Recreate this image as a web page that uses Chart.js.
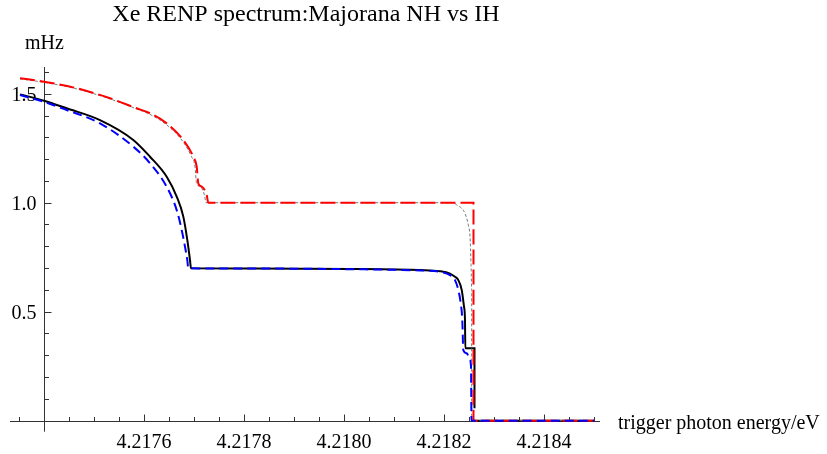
<!DOCTYPE html>
<html>
<head>
<meta charset="utf-8">
<script src="https://cdn.jsdelivr.net/npm/chart.js@4.4.1/dist/chart.umd.min.js"></script>
<style>
  html, body { margin: 0; padding: 0; background: #fff; }
  canvas { display: block; }
</style>
</head>
<body>
<canvas id="c" width="827" height="454"></canvas>
<script>
// ---------- data (trigger photon energy in eV, rate in mHz) ----------
const titleText = 'Xe RENP spectrum:Majorana NH vs IH';
const yAxisLabel = 'mHz';
const xAxisLabel = 'trigger photon energy/eV';

// black solid
const blackE = [4.217352, 4.2174, 4.2174454, 4.217512, 4.2175786, 4.217612, 4.2176454, 4.2176654, 4.2176786, 4.2176866, 4.217692, 4.217694,
                4.217812, 4.218012, 4.218152, 4.218192, 4.218212, 4.218222, 4.2182286, 4.2182354, 4.21824, 4.218242, 4.2182426,
                4.218261, 4.218261, 4.2182611, 4.2182612, 4.2185];
const blackY = [1.497, 1.468, 1.433, 1.379, 1.288, 1.211, 1.119, 1.028, 0.936, 0.829, 0.736, 0.699,
                0.698, 0.696, 0.691, 0.686, 0.675, 0.660, 0.645, 0.600, 0.523, 0.460, 0.332,
                0.332, 0.057, null, 0, 0];

// blue dashed
const blueE = [4.217352, 4.2174, 4.2174454, 4.217512, 4.2175786, 4.217612, 4.2176454, 4.2176654, 4.2176754, 4.217682, 4.2176866, 4.2176886,
               4.217812, 4.218012, 4.218152, 4.218192, 4.218212, 4.218222, 4.2182286, 4.2182334, 4.2182366, 4.2182386,
               4.2182454, 4.218252, 4.218254, 4.218255, 4.2185];
const blueY = [1.494, 1.463, 1.425, 1.364, 1.257, 1.181, 1.073, 0.966, 0.875, 0.798, 0.737, 0.699,
               0.698, 0.695, 0.689, 0.683, 0.668, 0.645, 0.600, 0.539, 0.462, 0.324,
               0.309, 0.278, 0.248, 0, 0];

// red long-dashed
const redE = [4.217352, 4.2174, 4.2174654, 4.217532, 4.2175854, 4.217612, 4.2176454, 4.2176786, 4.2176986, 4.2177054, 4.2177086, 4.2177154,
              4.2177254, 4.2177286, 4.218259, 4.218259, 4.2185];
const redY = [1.571, 1.555, 1.525, 1.479, 1.433, 1.410, 1.364, 1.287, 1.211, 1.165, 1.089, 1.074,
              1.035, 1.0, 1.0, 0, 0];

// gray thin dashed
const grayE = [4.217352, 4.2174, 4.2174654, 4.217532, 4.2175854, 4.217612, 4.2176454, 4.2176786, 4.217695, 4.217702, 4.217705, 4.217712,
               4.217721, 4.217724, 4.218218, 4.2182254, 4.2182354, 4.218242, 4.2182486, 4.218252, 4.218254, 4.2182554, 4.2182554, 4.2185];
const grayY = [1.568, 1.552, 1.522, 1.476, 1.430, 1.405, 1.357, 1.278, 1.211, 1.165, 1.089, 1.074,
               1.035, 1.0, 1.0, 0.990, 0.974, 0.951, 0.898, 0.844, 0.722, 0.6, 0, 0];

// axes ranges and ticks
const xMin = 4.217332, xMax = 4.218512;
const yMin = -0.0505, yMax = 1.6225;
const yAxisAtE = 4.2174;
const xMajorTicks = [4.2176, 4.2178, 4.2180, 4.2182, 4.2184];
const xTickLabels = ['4.2176', '4.2178', '4.2180', '4.2182', '4.2184'];
const xMinorTicks = [4.21735, 4.21745, 4.2175, 4.21755, 4.21765, 4.2177, 4.21775, 4.21785, 4.2179, 4.21795,
                     4.21805, 4.2181, 4.21815, 4.21825, 4.2183, 4.21835, 4.21845, 4.2185];
const yMajorTicks = [0.5, 1.0, 1.5];
const yTickLabels = ['0.5', '1.0', '1.5'];
const yMinorTicks = [0.1, 0.2, 0.3, 0.4, 0.6, 0.7, 0.8, 0.9, 1.1, 1.2, 1.3, 1.4, 1.6];

// ---------- build ----------
const pts = (xs, ys) => xs.map((x, i) => ({ x: x, y: ys[i] }));
const FONT = '20px "Liberation Serif", "Times New Roman", serif';
const TITLE_FONT = '24px "Liberation Serif", "Times New Roman", serif';
const AXIS_COLOR = '#333333';

const axesPlugin = {
  id: 'mmaAxes',
  beforeDatasetsDraw(chart) {
    const ctx = chart.ctx;
    const xs = chart.scales.x, ys = chart.scales.y;
    const area = chart.chartArea;
    const ax = Math.round(xs.getPixelForValue(yAxisAtE)) + 0.5;
    const ay = Math.round(ys.getPixelForValue(0)) + 0.5;
    ctx.save();
    ctx.strokeStyle = AXIS_COLOR;
    ctx.lineWidth = 1;
    ctx.beginPath();
    ctx.moveTo(area.left, ay); ctx.lineTo(area.right, ay);
    ctx.moveTo(ax, area.top); ctx.lineTo(ax, area.bottom);
    // x ticks (pointing up, into the plot)
    xMajorTicks.forEach(v => { const p = Math.round(xs.getPixelForValue(v)) + 0.5; ctx.moveTo(p, ay); ctx.lineTo(p, ay - 7); });
    xMinorTicks.forEach(v => { const p = Math.round(xs.getPixelForValue(v)) + 0.5; ctx.moveTo(p, ay); ctx.lineTo(p, ay - 4.5); });
    // y ticks (pointing right)
    yMajorTicks.forEach(v => { const p = Math.round(ys.getPixelForValue(v)) + 0.5; ctx.moveTo(ax, p); ctx.lineTo(ax + 7, p); });
    yMinorTicks.forEach(v => { const p = Math.round(ys.getPixelForValue(v)) + 0.5; ctx.moveTo(ax, p); ctx.lineTo(ax + 4.5, p); });
    ctx.stroke();

    ctx.fillStyle = '#000';
    ctx.font = FONT;
    ctx.textBaseline = 'alphabetic';
    ctx.textAlign = 'center';
    xMajorTicks.forEach((v, i) => ctx.fillText(xTickLabels[i], xs.getPixelForValue(v), ay + 26));
    ctx.textAlign = 'right';
    yMajorTicks.forEach((v, i) => ctx.fillText(yTickLabels[i], ax - 8, ys.getPixelForValue(v) + 7));
    // axis labels
    ctx.textAlign = 'center';
    ctx.fillText(yAxisLabel, ax, 49);
    ctx.textAlign = 'left';
    ctx.fillText(xAxisLabel, 618, ay + 7.5);
    // title
    ctx.font = TITLE_FONT;
    ctx.textAlign = 'center';
    ctx.fillText(titleText, 306, 21);
    ctx.restore();
  }
};

const common = { pointRadius: 0, fill: false, cubicInterpolationMode: 'monotone', spanGaps: false };

new Chart(document.getElementById('c'), {
  type: 'line',
  data: {
    datasets: [
      Object.assign({ label: 'blue', data: pts(blueE, blueY), borderColor: '#0000ff', borderWidth: 2, borderDash: [9, 5] }, common),
      Object.assign({ label: 'red', data: pts(redE, redY), borderColor: '#ff0000', borderWidth: 2, borderDash: [15, 5] }, common),
      Object.assign({ label: 'gray', data: pts(grayE, grayY), borderColor: '#777777', borderWidth: 1, borderDash: [3, 2] }, common),
      Object.assign({ label: 'black', data: pts(blackE, blackY), borderColor: '#000000', borderWidth: 2, borderDash: [] }, common)
    ]
  },
  options: {
    responsive: false,
    animation: false,
    devicePixelRatio: 1,
    layout: { padding: { left: 10, right: 227, top: 67, bottom: 22.3 } },
    plugins: { legend: { display: false }, tooltip: { enabled: false }, title: { display: false } },
    scales: {
      x: { type: 'linear', min: xMin, max: xMax, display: false },
      y: { type: 'linear', min: yMin, max: yMax, display: false }
    }
  },
  plugins: [axesPlugin]
});
</script>
</body>
</html>
